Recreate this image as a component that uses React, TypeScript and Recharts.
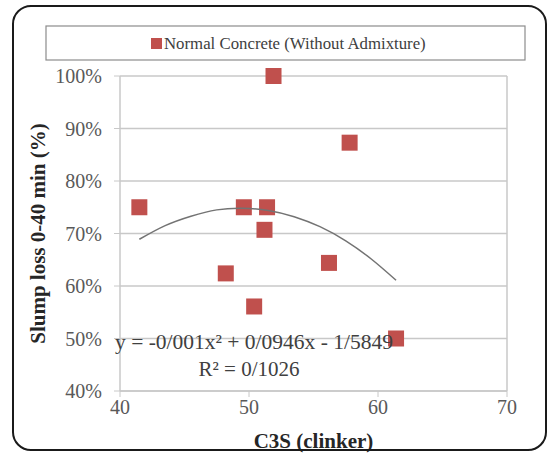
import React from 'react';
import {
  ScatterChart,
  Scatter,
  XAxis,
  YAxis,
  CartesianGrid,
  ReferenceLine,
  Label,
} from 'recharts';

// C3S content of the clinker vs slump loss after 40 min
const c3s = [41.5, 48.2, 49.6, 51.4, 51.2, 50.4, 51.9, 57.8, 56.2, 61.4];
const slumpLoss = [0.75, 0.624, 0.75, 0.75, 0.707, 0.561, 1.0, 0.873, 0.644, 0.5];

// polynomial trendline
const trendX = [41.5, 43.5, 45.5, 47.5, 49.5, 51.5, 53.5, 55.5, 57.5, 59.5, 61.4];
const trendY = [0.689, 0.715, 0.733, 0.745, 0.748, 0.744, 0.732, 0.713, 0.686, 0.651, 0.611];

const xTicks = [40, 50, 60, 70];
const yTicks = [0.4, 0.5, 0.6, 0.7, 0.8, 0.9, 1.0];

const seriesName = 'Normal Concrete (Without Admixture)';
const equationText = 'y = -0/001x² + 0/0946x - 1/5849';
const r2Text = 'R² = 0/1026';

const points = c3s.map((x, i) => ({ x, y: slumpLoss[i] }));
const trend = trendX.map((x, i) => ({ x, y: trendY[i] }));

const FONT = '"Liberation Serif", "Times New Roman", serif';
const RED = '#C0504D';
const GRID = '#c8c8c8';

const SquareMarker = (props: any) => {
  const { cx, cy } = props;
  return <rect x={cx - 8} y={cy - 8} width={16} height={16} fill={RED} />;
};

const NoMarker = () => <g />;

const YTitle = (props: any) => {
  const { viewBox } = props;
  const x = viewBox.x + 18;
  const y = viewBox.y + viewBox.height / 2;
  return (
    <text
      x={x}
      y={y}
      transform={`rotate(-90, ${x}, ${y})`}
      textAnchor="middle"
      dominantBaseline="central"
      fontFamily={FONT}
      fontSize={21}
      fontWeight="bold"
      fill="#262626"
    >
      Slump loss 0-40 min (%)
    </text>
  );
};

export default function App() {
  const tickStyle = { fill: '#595959', fontSize: 20, fontFamily: FONT };
  return (
    <div style={{ position: 'absolute', left: 0, top: 0, width: 549, height: 458, background: '#fff' }}>
      <ScatterChart width={549} height={458} margin={{ top: 76, right: 42, bottom: 0, left: 20 }}>
        <CartesianGrid horizontal vertical={false} stroke={GRID} strokeWidth={1.5} />
        <XAxis
          type="number"
          dataKey="x"
          domain={[40, 70]}
          ticks={xTicks}
          height={67}
          axisLine={{ stroke: GRID, strokeWidth: 1.5 }}
          tickLine={{ stroke: GRID }}
          tickSize={6}
          tickMargin={3}
          tick={tickStyle}
        >
          <Label
            value="C3S (clinker)"
            position="insideBottom"
            offset={10}
            fontFamily={FONT}
            fontSize={21}
            fontWeight="bold"
            fill="#262626"
          />
        </XAxis>
        <YAxis
          type="number"
          dataKey="y"
          domain={[0.4, 1]}
          ticks={yTicks}
          width={100}
          axisLine={{ stroke: GRID, strokeWidth: 1.5 }}
          tickLine={{ stroke: GRID }}
          tickSize={6}
          tickMargin={12}
          tick={tickStyle}
          tickFormatter={(v: number) => `${Math.round(v * 100)}%`}
        >
          <Label content={<YTitle />} />
        </YAxis>
        <ReferenceLine x={70} stroke={GRID} strokeWidth={1.5} />
        <Scatter
          name={seriesName}
          data={points}
          shape={<SquareMarker />}
          isAnimationActive={false}
        />
        <Scatter
          data={trend}
          line={{ stroke: '#737373', strokeWidth: 1.5 }}
          lineJointType="natural"
          shape={<NoMarker />}
          legendType="none"
          isAnimationActive={false}
        />
      </ScatterChart>
      <svg
        width={549}
        height={458}
        style={{ position: 'absolute', left: 0, top: 0, pointerEvents: 'none' }}
      >
        <rect x={13} y={6} width={533} height={444} rx={18} fill="none" stroke="#1a1a1a" strokeWidth={2} />
        <rect x={46} y={26} width={479} height={34} fill="none" stroke="#8c8c8c" strokeWidth={1.2} />
        <rect x={151} y={38} width={11} height={11} fill={RED} />
        <text x={164} y={49} fontFamily={FONT} fontSize={16.8} fill="#404040">
          {seriesName}
        </text>
        <text x={254} y={349} textAnchor="middle" fontFamily={FONT} fontSize={21.5} fill="#404040">
          {equationText}
        </text>
        <text x={249} y={376} textAnchor="middle" fontFamily={FONT} fontSize={21} fill="#404040">
          {r2Text}
        </text>
      </svg>
    </div>
  );
}
